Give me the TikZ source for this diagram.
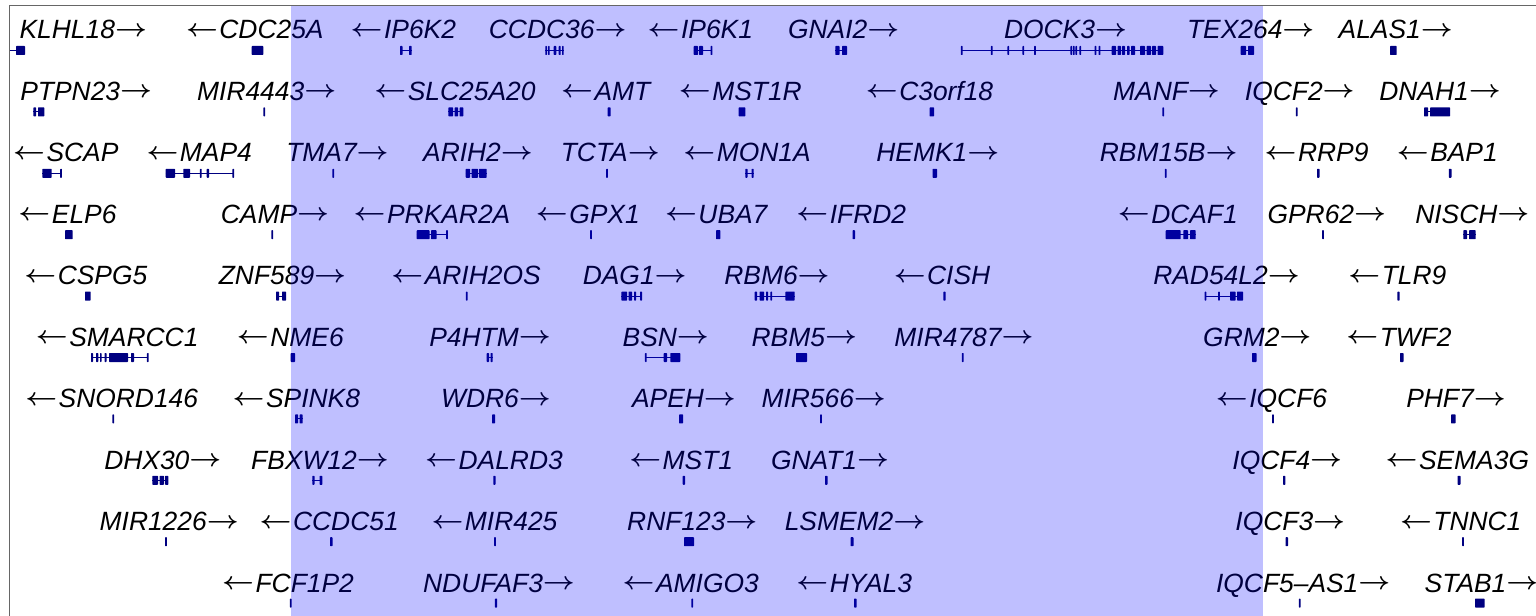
\documentclass[tikz,border=0pt]{standalone}
\usepackage{fontspec}
\setmainfont{Liberation Sans}
\definecolor{gnavy}{HTML}{000080}
\newcommand\gX[3]{\fill[gene] (#1,#3-4.5) rectangle (#2,#3+4.5);}
\newcommand\gT[2]{\fill[gene] (#1-0.9,#2-4.5) rectangle (#1+0.9,#2+4.5);}
\newcommand\gL[3]{\draw[gline] (#1,#3) -- (#2,#3);}
\newcommand\lab[4]{\node[lbl] (#1) at (#2,#3) {#4};}
\newcommand\ra{\raisebox{2.6bp}{\scalebox{1.12}[1]{\boldmath$\rightarrow$}}}
\newcommand\la{\raisebox{2.6bp}{\scalebox{1.12}[1]{\boldmath$\leftarrow$}}\kern1.5bp}
\begin{document}
\begin{tikzpicture}[x=1bp,y=-1bp,
  lbl/.style={font=\fontsize{26.4bp}{30bp}\selectfont\itshape, anchor=base, inner sep=0pt, text=black},
  gene/.style={fill=gnavy, rounded corners=0.6bp},
  gline/.style={draw=gnavy, line width=1bp},
  frameline/.style={draw=black!60, line width=1bp}]
\useasboundingbox (0,0) rectangle (1536,616);
\fill[white] (0,0) rectangle (1536,616);
\draw[frameline] (9.5,616) -- (9.5,6) -- (1536,6);

% ---------- row 1 ----------
\lab{KLHL18}{83.3}{39}{KLHL18\ra}
\lab{CDC25A}{254.8}{39}{\la CDC25A}
\lab{IP6K2}{403.3}{39}{\la IP6K2}
\lab{CCDC36}{557.7}{39}{CCDC36\ra}
\lab{IP6K1}{700.3}{39}{\la IP6K1}
\lab{GNAI2}{843.7}{39}{GNAI2\ra}
\lab{DOCK3}{1065.5}{39}{DOCK3\ra}
\lab{TEX264}{1250.7}{39}{TEX264\ra}
\lab{ALAS1}{1395.7}{39}{ALAS1\ra}
% ---------- row 2 ----------
\lab{PTPN23}{86.2}{100.5}{PTPN23\ra}
\lab{MIR4443}{266.7}{100.5}{MIR4443\ra}
\lab{SLC25A20}{455}{100.5}{\la SLC25A20}
\lab{AMT}{605.7}{100.5}{\la AMT}
\lab{MST1R}{740.3}{100.5}{\la MST1R}
\lab{C3orf18}{929.5}{100.5}{\la C3orf18}
\lab{MANF}{1166.5}{100.5}{MANF\ra}
\lab{IQCF2}{1299.8}{100.5}{IQCF2\ra}
\lab{DNAH1}{1440}{100.5}{DNAH1\ra}
% ---------- row 3 ----------
\lab{SCAP}{65.8}{161.9}{\la SCAP}
\lab{MAP4}{199.2}{161.9}{\la MAP4}
\lab{TMA7}{337.5}{161.9}{TMA7\ra}
\lab{ARIH2}{478}{161.9}{ARIH2\ra}
\lab{TCTA}{610.3}{161.9}{TCTA\ra}
\lab{MON1A}{747}{161.9}{\la MON1A}
\lab{HEMK1}{937.8}{161.9}{HEMK1\ra}
\lab{RBM15B}{1168.7}{161.9}{RBM15B\ra}
\lab{RRP9}{1316.5}{161.9}{\la RRP9}
\lab{BAP1}{1447.3}{161.9}{\la BAP1}
% ---------- row 4 ----------
\lab{ELP6}{67.5}{223.4}{\la ELP6}
\lab{CAMP}{275}{223.4}{CAMP\ra}
\lab{PRKAR2A}{432}{223.4}{\la PRKAR2A}
\lab{GPX1}{587.8}{223.4}{\la GPX1}
\lab{UBA7}{716.2}{223.4}{\la UBA7}
\lab{IFRD2}{851.2}{223.4}{\la IFRD2}
\lab{DCAF1}{1177.8}{223.4}{\la DCAF1}
\lab{GPR62}{1326.8}{223.4}{GPR62\ra}
\lab{NISCH}{1472.3}{223.4}{NISCH\ra}
% ---------- row 5 ----------
\lab{CSPG5}{85.8}{284.8}{\la CSPG5}
\lab{ZNF589}{282.5}{284.8}{ZNF589\ra}
\lab{ARIH2OS}{466}{284.8}{\la ARIH2OS}
\lab{DAG1}{634.7}{284.8}{DAG1\ra}
\lab{RBM6}{777}{284.8}{RBM6\ra}
\lab{CISH}{942}{284.8}{\la CISH}
\lab{RAD54L2}{1226.5}{284.8}{RAD54L2\ra}
\lab{TLR9}{1397.3}{284.8}{\la TLR9}
% ---------- row 6 ----------
\lab{SMARCC1}{117.2}{346.3}{\la SMARCC1}
\lab{NME6}{290.3}{346.3}{\la NME6}
\lab{P4HTM}{490}{346.3}{P4HTM\ra}
\lab{BSN}{665.8}{346.3}{BSN\ra}
\lab{RBM5}{804.3}{346.3}{RBM5\ra}
\lab{MIR4787}{964}{346.3}{MIR4787\ra}
\lab{GRM2}{1257.3}{346.3}{GRM2\ra}
\lab{TWF2}{1399}{346.3}{\la TWF2}
% ---------- row 7 ----------
\lab{SNORD146}{111.7}{407.7}{\la SNORD146}
\lab{SPINK8}{296.3}{407.7}{\la SPINK8}
\lab{WDR6}{496}{407.7}{WDR6\ra}
\lab{APEH}{684}{407.7}{APEH\ra}
\lab{MIR566}{823.7}{407.7}{MIR566\ra}
\lab{IQCF6}{1271.5}{407.7}{\la IQCF6}
\lab{PHF7}{1456}{407.7}{PHF7\ra}
% ---------- row 8 ----------
\lab{DHX30}{162.8}{469.2}{DHX30\ra}
\lab{FBXW12}{320}{469.2}{FBXW12\ra}
\lab{DALRD3}{494}{469.2}{\la DALRD3}
\lab{MST1}{681.2}{469.2}{\la MST1}
\lab{GNAT1}{830}{469.2}{GNAT1\ra}
\lab{IQCF4}{1287.3}{469.2}{IQCF4\ra}
\lab{SEMA3G}{1457.3}{469.2}{\la SEMA3G}
% ---------- row 9 ----------
\lab{MIR1226}{169.2}{530.6}{MIR1226\ra}
\lab{CCDC51}{329.2}{530.6}{\la CCDC51}
\lab{MIR425}{494.5}{530.6}{\la MIR425}
\lab{RNF123}{692.3}{530.6}{RNF123\ra}
\lab{LSMEM2}{855}{530.6}{LSMEM2\ra}
\lab{IQCF3}{1290.3}{530.6}{IQCF3\ra}
\lab{TNNC1}{1460.7}{530.6}{\la TNNC1}
% ---------- row 10 ----------
\lab{FCF1P2}{288}{592.1}{\la FCF1P2}
\lab{NDUFAF3}{499}{592.1}{NDUFAF3\ra}
\lab{AMIGO3}{690.7}{592.1}{\la AMIGO3}
\lab{HYAL3}{854.2}{592.1}{\la HYAL3}
\lab{IQCF5AS1}{1303.2}{592.1}{IQCF5–AS1\ra}
\lab{STAB1}{1481.5}{592.1}{STAB1\ra}

% ================= gene models =================
% row 1 (y=50.5)
\gL{10}{17}{50.5}\gX{16}{25}{50.5}
\gX{251.7}{263.3}{50.5}
\gL{400}{411.7}{50.5}\gX{400}{402.5}{50.5}\gX{409}{411.7}{50.5}
\gL{545.3}{563.7}{50.5}\gX{545.3}{547}{50.5}\gX{548}{549.7}{50.5}\gX{553.7}{556.3}{50.5}\gX{558.7}{560.7}{50.5}\gX{562}{563.7}{50.5}
\gL{693.7}{712}{50.5}\gX{693.7}{698}{50.5}\gX{699}{703}{50.5}\gT{711.5}{50.5}
\gL{835.3}{847}{50.5}\gX{835.3}{839.5}{50.5}\gX{842}{847}{50.5}
\gL{961.7}{1163.3}{50.5}
\gT{961.7}{50.5}\gT{991.7}{50.5}\gT{1008.3}{50.5}\gT{1023.3}{50.5}\gT{1035}{50.5}
\gT{1071.3}{50.5}\gT{1073.7}{50.5}\gT{1076.3}{50.5}\gT{1080.3}{50.5}
\gT{1095.5}{50.5}\gT{1099.5}{50.5}
\gX{1111.7}{1116}{50.5}\gX{1117.5}{1121}{50.5}\gX{1122}{1125}{50.5}\gX{1127}{1129.5}{50.5}\gX{1131}{1135}{50.5}
\gX{1140}{1145}{50.5}\gX{1146.5}{1151}{50.5}\gX{1152}{1156}{50.5}\gX{1157.5}{1163.3}{50.5}
\gL{1240.7}{1254}{50.5}\gX{1240.7}{1246}{50.5}\gX{1248}{1254}{50.5}
\gX{1390}{1396.7}{50.5}
% row 2 (y=111.9)
\gL{33.3}{44.3}{111.9}\gX{33.3}{36}{111.9}\gX{38}{44.3}{111.9}
\gT{264.3}{111.9}
\gL{448.3}{463.3}{111.9}\gX{448.3}{453}{111.9}\gX{454.5}{458}{111.9}\gX{459.5}{463.3}{111.9}
\gX{607.7}{610.5}{111.9}
\gX{738.7}{745.3}{111.9}
\gX{929.5}{934}{111.9}
\gT{1163.3}{111.9}
\gT{1296.7}{111.9}
\gL{1424}{1450}{111.9}\gX{1424}{1428}{111.9}\gX{1430}{1450}{111.9}
% row 3 (y=173.3)
\gL{42.3}{61}{173.3}\gX{42.3}{51.7}{173.3}\gT{61}{173.3}
\gL{165.7}{233.3}{173.3}\gX{165.7}{175}{173.3}\gX{183.3}{190}{173.3}\gT{200.8}{173.3}\gX{206.7}{209}{173.3}\gT{233.3}{173.3}
\gT{333.3}{173.3}
\gL{465.7}{486.7}{173.3}\gX{465.7}{470}{173.3}\gX{471.5}{478}{173.3}\gX{479}{486.7}{173.3}
\gT{607}{173.3}
\gL{745.3}{753.7}{173.3}\gX{745.3}{747.5}{173.3}\gX{751.5}{753.7}{173.3}
\gX{932.5}{937}{173.3}
\gT{1165.7}{173.3}
\gX{1317}{1319.5}{173.3}
\gX{1448.8}{1451.5}{173.3}
% row 4 (y=234.7)
\gX{65}{72.7}{234.7}
\gT{272.3}{234.7}
\gL{416.7}{447.3}{234.7}\gX{416.7}{429.5}{234.7}\gX{431}{436.5}{234.7}\gT{447}{234.7}
\gT{591}{234.7}
\gX{716}{720.3}{234.7}
\gX{852.5}{855}{234.7}
\gL{1165.7}{1195.7}{234.7}\gX{1165.7}{1180.7}{234.7}\gX{1183.3}{1188}{234.7}\gX{1190}{1195.7}{234.7}
\gT{1323}{234.7}
\gL{1463.3}{1475.7}{234.7}\gX{1463.3}{1467}{234.7}\gX{1469}{1475.7}{234.7}
% row 5 (y=296.1)
\gX{85}{90.7}{296.1}
\gL{276}{286}{296.1}\gX{276}{279}{296.1}\gX{282}{286}{296.1}
\gT{466.7}{296.1}
\gL{621.3}{642}{296.1}\gX{621.3}{627}{296.1}\gX{628.5}{632}{296.1}\gX{634}{636}{296.1}\gX{640}{642}{296.1}
\gL{754.7}{794.7}{296.1}\gX{754.7}{757}{296.1}\gX{759.5}{764}{296.1}\gX{766}{768}{296.1}\gT{771.3}{296.1}\gX{785.3}{794.7}{296.1}
\gX{943.3}{945.5}{296.1}
\gL{1205}{1243}{296.1}\gT{1205.5}{296.1}\gT{1219}{296.1}\gX{1230}{1235.5}{296.1}\gX{1237}{1243}{296.1}
\gX{1397.3}{1399.5}{296.1}
% row 6 (y=357.5)
\gL{91}{148.3}{357.5}\gX{91}{93}{357.5}\gX{96}{98.3}{357.5}\gX{100}{101.5}{357.5}\gX{104.5}{106.5}{357.5}\gX{109}{128}{357.5}\gX{131}{134}{357.5}\gT{147.8}{357.5}
\gX{290.7}{295}{357.5}
\gL{486.7}{492.7}{357.5}\gX{486.7}{489}{357.5}\gX{490.5}{492.7}{357.5}
\gL{645.3}{680.3}{357.5}\gT{645.8}{357.5}\gX{663.7}{667}{357.5}\gX{670.3}{680.3}{357.5}
\gX{796}{807}{357.5}
\gT{962.7}{357.5}
\gX{1252}{1256.5}{357.5}
\gX{1400}{1403.5}{357.5}
% row 7 (y=418.9)
\gT{113.3}{418.9}
\gL{295}{302.7}{418.9}\gX{295}{298}{418.9}\gX{299.5}{302.7}{418.9}
\gX{492}{495}{418.9}
\gX{679}{683}{418.9}
\gT{821}{418.9}
\gT{1273}{418.9}
\gX{1451}{1455.5}{418.9}
% row 8 (y=480.3)
\gL{152.3}{168.3}{480.3}\gX{152.3}{158}{480.3}\gX{159.5}{164}{480.3}\gX{165}{168.3}{480.3}
\gL{312.3}{322.3}{480.3}\gX{312.3}{314.5}{480.3}\gX{319.5}{322.3}{480.3}
\gX{493.3}{495.5}{480.3}
\gX{682.7}{685}{480.3}
\gX{825}{827.5}{480.3}
\gX{1283}{1285.3}{480.3}
\gX{1457.5}{1460.5}{480.3}
% row 9 (y=541.7)
\gT{166}{541.7}
\gX{330}{332.5}{541.7}
\gT{495}{541.7}
\gX{684}{694}{541.7}
\gX{850.5}{853.5}{541.7}
\gX{1285.5}{1288}{541.7}
\gT{1463}{541.7}
% row 10 (y=603.1)
\gT{290.7}{603.1}
\gX{494.8}{497.2}{603.1}
\gT{692.3}{603.1}
\gX{854}{856.5}{603.1}
\gT{1299.7}{603.1}
\gX{1475}{1484.5}{603.1}

% highlight region
\fill[blue, opacity=0.25] (291,6) rectangle (1263,616);
\end{tikzpicture}
\end{document}
